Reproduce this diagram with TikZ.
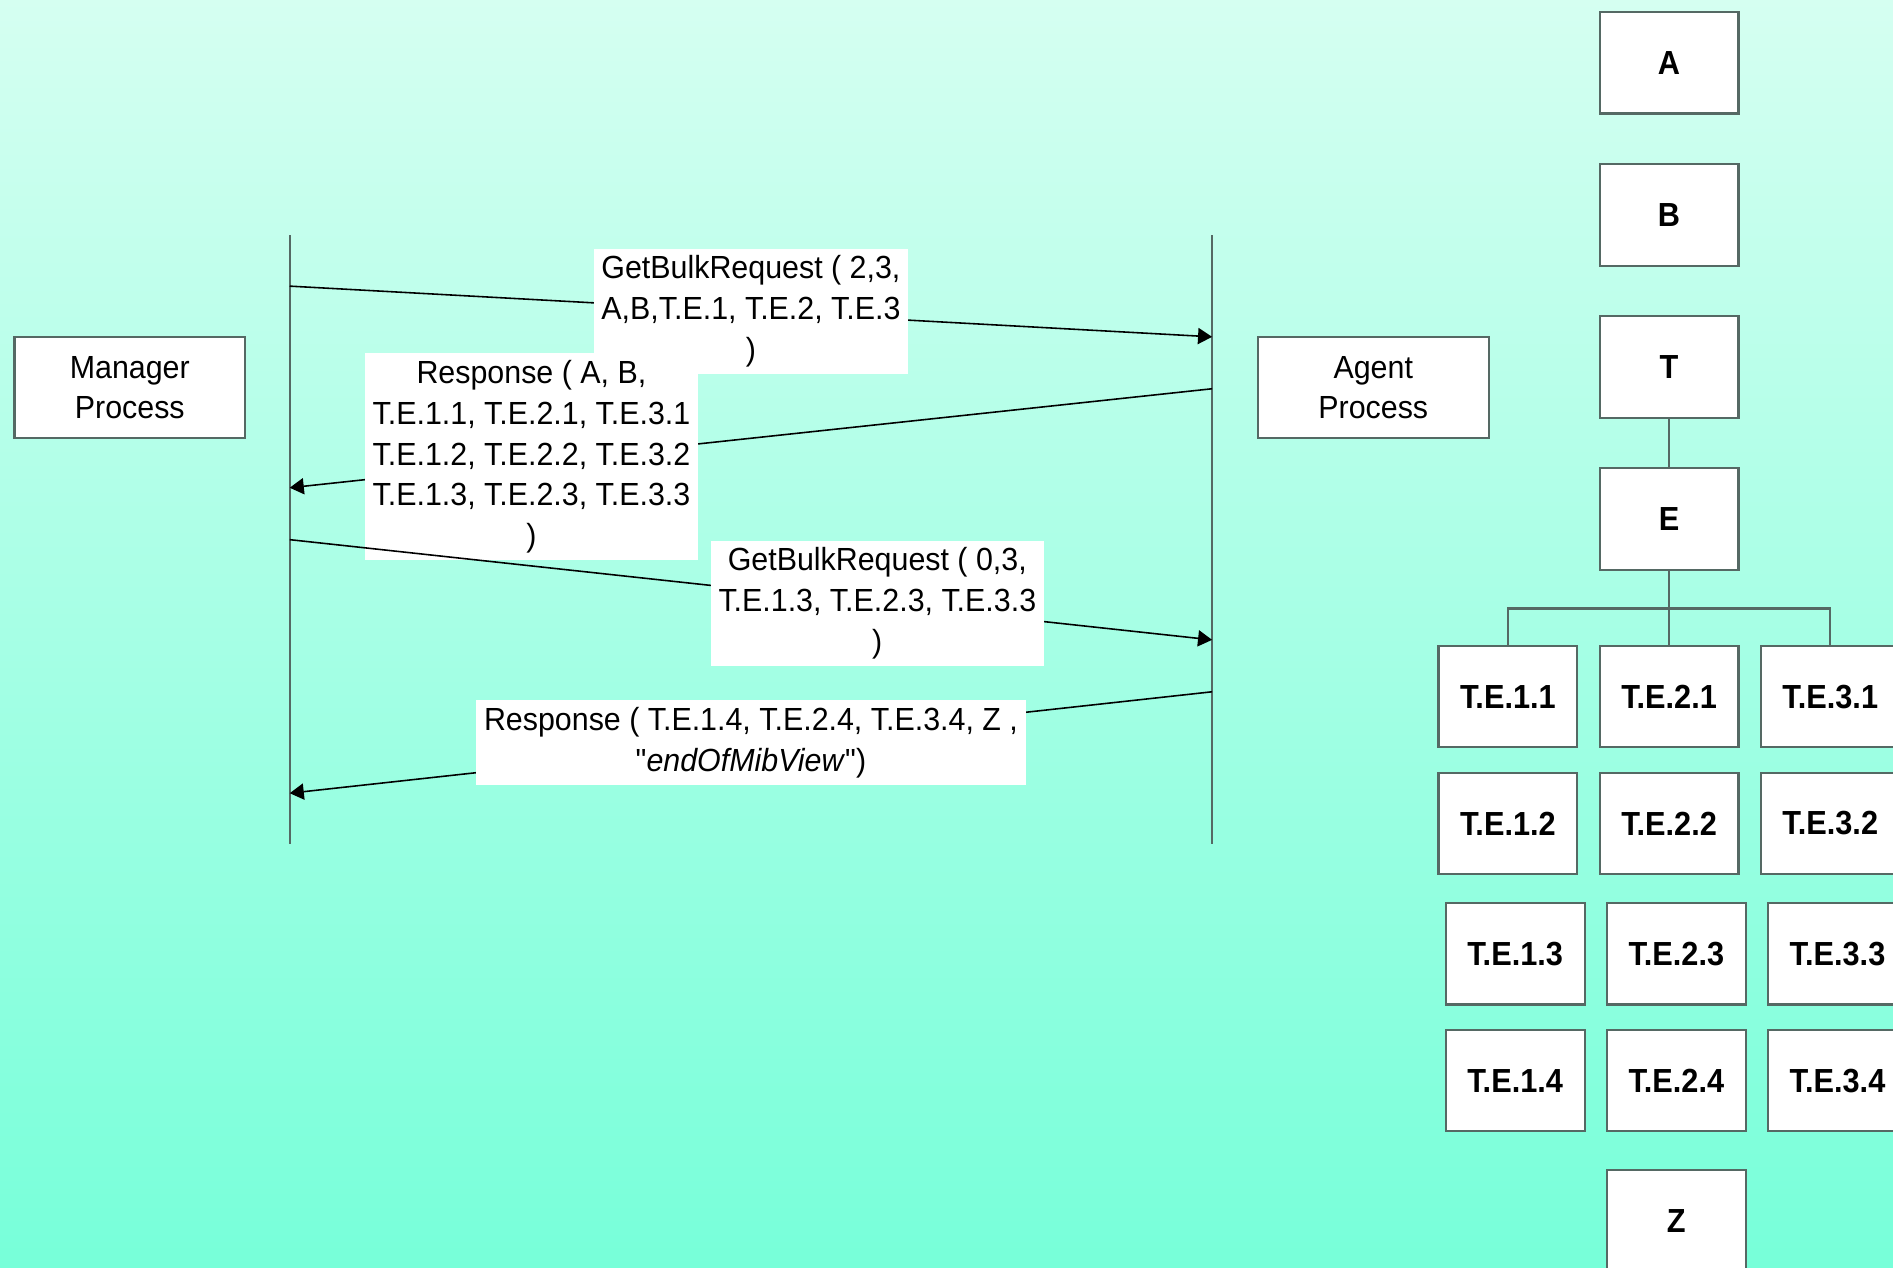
\documentclass[tikz,border=0pt]{standalone}
\usepackage{fontspec}
\newfontfamily\msgfont{Liberation Sans}[FakeStretch=0.95]
\newfontfamily\treefont{Liberation Sans}[FakeStretch=0.92]
\usetikzlibrary{arrows.meta}

\definecolor{bgtop}{RGB}{213,255,241}
\definecolor{bgbot}{RGB}{119,255,217}
\definecolor{edge}{RGB}{85,105,100}

\tikzset{
  lifeline/.style={draw=edge, line width=0.7pt},
  msg/.style={draw=black, line width=0.45pt, -{Triangle[length=4pt,width=4.6pt]}},
  msglabel/.style={fill=white, inner xsep=2.2pt, inner ysep=2pt, align=center,
    font=\msgfont\fontsize{9.1}{11.6}\selectfont},
  procbox/.style={draw=edge, fill=white, line width=0.6pt, minimum width=2.306cm,
    minimum height=1.014cm, inner sep=0pt, align=center, font=\msgfont\fontsize{9.1}{11.6}\selectfont},
  leaf/.style={draw=edge, fill=white, line width=0.6pt, minimum width=1.388cm,
    minimum height=1.014cm, inner sep=0pt, font=\treefont\bfseries\fontsize{9.5}{11}\selectfont},
  tree/.style={draw=edge, line width=0.6pt}
}

\begin{document}
\begin{tikzpicture}[x=0.012073cm, y=-0.012073cm]

  % background
  \useasboundingbox (0,0) rectangle (1568,1050);
  \clip (0,0) rectangle (1568,1050);
  \shade[top color=bgtop, bottom color=bgbot] (0,0) rectangle (1568,1050);

  % processes
  \node[procbox] (manager) at (107.5,321) {Manager\\Process};
  \node[procbox] (agent) at (1137.5,321) {Agent\\Process};

  % lifelines
  \coordinate (mtop) at (240,195);
  \coordinate (mbot) at (240,699);
  \coordinate (atop) at (1004,195);
  \coordinate (abot) at (1004,699);
  \draw[lifeline] (mtop) -- (mbot);
  \draw[lifeline] (atop) -- (abot);

  % message end points
  \coordinate (m1) at (240,237);
  \coordinate (a1) at (1004,279);
  \coordinate (a2) at (1004,322);
  \coordinate (m2) at (240,404);
  \coordinate (m3) at (240,447);
  \coordinate (a3) at (1004,530);
  \coordinate (a4) at (1004,573);
  \coordinate (m4) at (240,657);

  % messages
  \draw[msg] (m1) -- node[msglabel, pos=0.5] (req1) {GetBulkRequest ( 2,3,\\A,B,T.E.1, T.E.2, T.E.3\\)} (a1);
  \draw[msg] (a2) -- node[msglabel, pos=0.738, yshift=0.05cm] (resp1) {Response ( A, B,\\T.E.1.1, T.E.2.1, T.E.3.1\\T.E.1.2, T.E.2.2, T.E.3.2\\T.E.1.3, T.E.2.3, T.E.3.3\\)} (m2);
  \draw[msg] (m3) -- node[msglabel, pos=0.637] (req2) {GetBulkRequest ( 0,3,\\T.E.1.3, T.E.2.3, T.E.3.3\\)} (a3);
  \draw[msg] (a4) -- node[msglabel, pos=0.5] (resp2) {Response ( T.E.1.4, T.E.2.4, T.E.3.4, Z ,\\"\textit{endOfMibView}")} (m4);

  % MIB tree
  \node[leaf] (A) at (1382.5,52) {A};
  \node[leaf] (B) at (1382.5,178) {B};
  \node[leaf] (T) at (1382.5,304) {T};
  \node[leaf] (E) at (1382.5,430) {E};
  \foreach \r/\ry/\dx in {1/577/0, 2/682/0, 3/790/6, 4/895/6}
    \foreach \c/\cx in {1/1249, 2/1382.5, 3/1516}
      \node[leaf] (te\c\r) at (\cx+\dx,\ry) {T.E.\c.\r};
  \node[leaf] (Z) at (1388.5,1011) {Z};

  \coordinate (bus) at (1382.5,504);
  \draw[tree] (T) -- (E);
  \draw[tree] (E) -- (te21);
  \draw[tree] (te11.north) |- (bus) -| (te31.north);

\end{tikzpicture}
\end{document}
